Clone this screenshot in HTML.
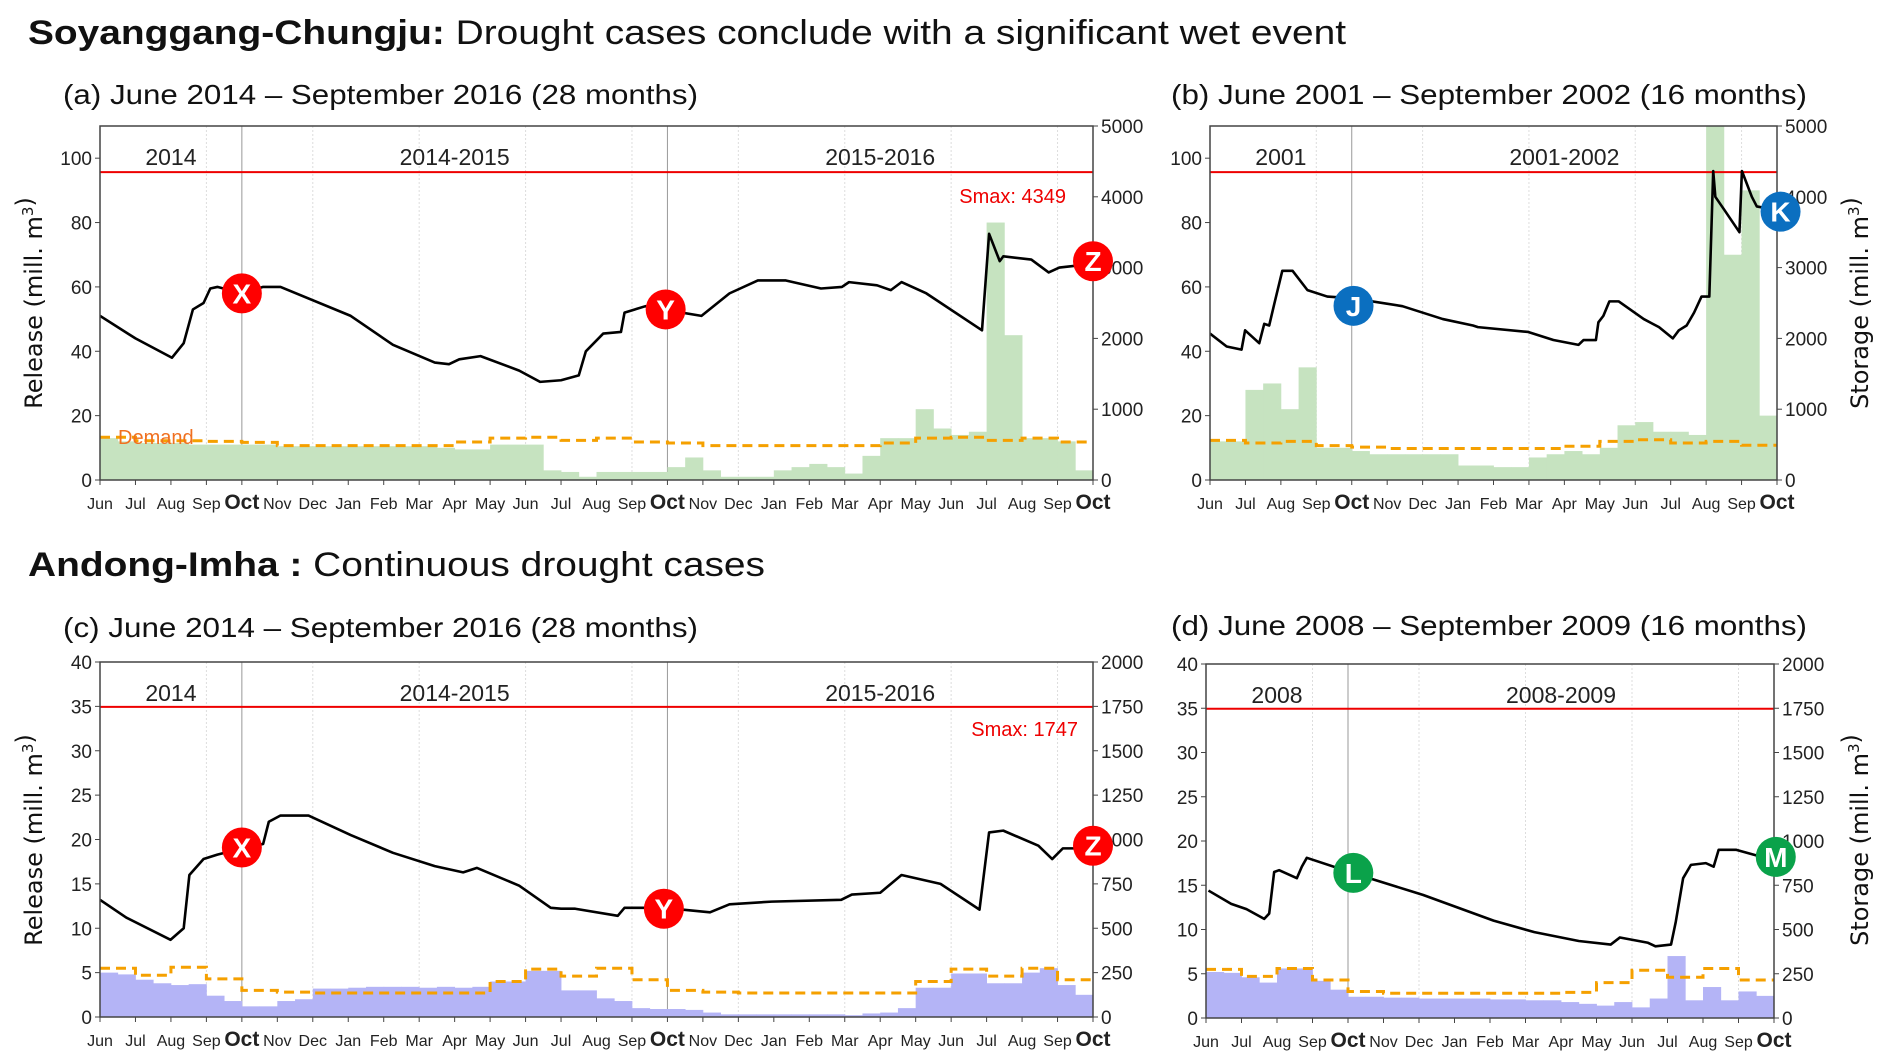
<!DOCTYPE html>
<html><head><meta charset="utf-8">
<style>
html,body{margin:0;padding:0;background:#fff;}
svg{display:block;}
text{font-family:"Liberation Sans Narrow","Liberation Sans",sans-serif;fill:#222;}
.ttl{font-family:"Liberation Sans",sans-serif;fill:#111;}
.ax{font-family:"DejaVu Sans","Liberation Sans",sans-serif;fill:#111;}
</style></head>
<body>
<svg id="chart" width="1892" height="1063" viewBox="0 0 1892 1063" xmlns="http://www.w3.org/2000/svg">
  <text class="ttl" x="28" y="44" font-size="34" textLength="1318" lengthAdjust="spacingAndGlyphs"><tspan font-weight="bold">Soyanggang-Chungju:</tspan> Drought cases conclude with a significant wet event</text>
  <text class="ttl" x="28" y="576" font-size="34" textLength="737" lengthAdjust="spacingAndGlyphs"><tspan font-weight="bold">Andong-Imha :</tspan> Continuous drought cases</text>
  <text class="ttl" x="63" y="104" font-size="28" textLength="635" lengthAdjust="spacingAndGlyphs">(a) June 2014 – September 2016 (28 months)</text>
  <text class="ttl" x="1171" y="104" font-size="28" textLength="636" lengthAdjust="spacingAndGlyphs">(b) June 2001 – September 2002 (16 months)</text>
  <text class="ttl" x="63" y="637" font-size="28" textLength="635" lengthAdjust="spacingAndGlyphs">(c) June 2014 – September 2016 (28 months)</text>
  <text class="ttl" x="1171" y="635" font-size="28" textLength="636" lengthAdjust="spacingAndGlyphs">(d) June 2008 – September 2009 (16 months)</text>
  <text class="ax" transform="translate(42,303) rotate(-90)" text-anchor="middle" font-size="24">Release (mill. m<tspan dy="-9" font-size="15">3</tspan>)</text>
  <text class="ax" transform="translate(42,840) rotate(-90)" text-anchor="middle" font-size="24">Release (mill. m<tspan dy="-9" font-size="15">3</tspan>)</text>
  <text class="ax" transform="translate(1868,303) rotate(-90)" text-anchor="middle" font-size="24">Storage (mill. m<tspan dy="-9" font-size="15">3</tspan>)</text>
  <text class="ax" transform="translate(1868,840) rotate(-90)" text-anchor="middle" font-size="24">Storage (mill. m<tspan dy="-9" font-size="15">3</tspan>)</text>
</svg>
<script>
// ---- Panel (a) Soyanggang-Chungju 2014-2016 ----
const aMonths = ["Jun","Jul","Aug","Sep","Oct","Nov","Dec","Jan","Feb","Mar","Apr","May","Jun","Jul","Aug","Sep","Oct","Nov","Dec","Jan","Feb","Mar","Apr","May","Jun","Jul","Aug","Sep","Oct"];
const aStorageT = [0,1.0,2.03,2.36,2.62,2.92,3.11,3.31,4.0,4.6,5.09,7.07,8.26,9.44,9.84,10.13,10.73,11.82,12.41,13.0,13.5,13.7,14.19,14.69,14.79,15.38,15.87,16.96,17.75,18.55,19.34,20.33,20.92,21.12,21.91,22.3,22.6,23.3,24.87,25.07,25.37,25.47,26.26,26.75,27.05,27.84];
const aStorage = [2318,2000,1727,1932,2409,2500,2705,2727,2636,2727,2727,2318,1909,1659,1636,1705,1750,1545,1386,1409,1477,1818,2068,2091,2364,2455,2409,2318,2636,2818,2818,2705,2727,2795,2750,2682,2795,2636,2114,3477,3091,3159,3114,2932,3000,3045];
const aRelease = [13,12,11.5,11.5,11.5,11,11,11,11,11,10.5,10.5,10.5,10.5,10.5,10.5,10.5,10.5,10.5,10,9.5,9.5,11,11,11,3,2.5,1,2.5,2.5,2.5,2.5,4,7,3,1,1,1,3,4,5,4,2,7.5,13,13,22,16,14,15,80,45,13,13,12,3];
const aDemand = [13.3,12.2,12.2,12,11.7,10.7,10.7,10.7,10.7,10.7,11.8,13,13.3,12.3,13,11.8,11.5,10.7,10.7,10.7,10.7,10.7,11.5,13,13.3,12.3,13,11.8];
const aYears = ["2014","2014-2015","2015-2016"];
const aMarkers = ["X","Y","Z"];
const aMarkerT = [4,15.95,28];
const aMarkerV = [2636,2409,3090];
// ---- Panel (b) 2001-2002 ----
const bMonths = ["Jun","Jul","Aug","Sep","Oct","Nov","Dec","Jan","Feb","Mar","Apr","May","Jun","Jul","Aug","Sep","Oct"];
const bStorageT = [0,0.47,0.89,0.99,1.39,1.53,1.67,1.82,2.04,2.33,2.75,3.31,4.0,5.43,6.57,7.42,7.56,8.98,9.69,10.4,10.54,10.89,10.96,11.1,11.27,11.53,12.24,12.67,13.06,13.23,13.45,13.66,13.87,14.09,14.2,14.26,14.51,14.94,15.01,15.29,15.43,15.93];
const bStorage = [2068,1886,1841,2114,1932,2205,2182,2500,2955,2955,2682,2591,2568,2455,2273,2182,2159,2091,1977,1909,1977,1977,2227,2318,2523,2523,2273,2159,2000,2114,2182,2364,2591,2591,4364,4000,3818,3500,4364,4000,3864,3818];
const bRelease = [12,12,28,30,22,35,10,10,9,8,8,8,8,8,4.5,4.5,4,4,7,8,9,8,10,17,18,15,15,14,110,70,90,20];
const bDemand = [12.3,11.5,12,10.7,10.2,9.8,9.8,9.8,9.8,9.8,10.5,12,12.5,11.5,12,10.8];
const bYears = ["2001","2001-2002"];
const bMarkers = ["J","K"];
const bMarkerT = [4.05,16.1];
const bMarkerV = [2460,3790];
// ---- Panel (c) Andong-Imha 2014-2016 ----
const cMonths = aMonths;
const cStorageT = [0,0.74,1.99,2.36,2.52,2.92,3.31,4.0,4.6,4.76,5.09,5.88,7.07,8.26,9.44,10.24,10.63,11.82,12.71,13.0,13.4,14.6,14.79,15.9,17.2,17.75,18.94,20.9,21.2,22.0,22.6,23.7,24.8,25.07,25.47,26.46,26.85,27.15,27.84];
const cStorage = [660,560,435,500,800,890,915,950,975,1100,1135,1135,1025,925,850,815,840,740,615,610,610,570,615,615,590,635,650,660,690,700,800,750,605,1040,1050,965,890,950,950];
const cRelease = [5,4.8,4.2,3.8,3.6,3.7,2.4,1.8,1.2,1.2,1.8,2,3.2,3.2,3.3,3.4,3.4,3.4,3.3,3.4,3.3,3.4,4,4,5.2,5.2,3,3,2.1,1.8,1,0.9,0.9,0.8,0.5,0.3,0.3,0.3,0.3,0.3,0.3,0.3,0.2,0.4,0.5,1,3.3,3.3,4.9,4.9,3.8,3.8,5,5.5,3.6,2.5];
const cDemand = [5.5,4.7,5.6,4.3,3.0,2.8,2.7,2.7,2.7,2.7,2.7,4.0,5.4,4.6,5.5,4.2,3.0,2.8,2.7,2.7,2.7,2.7,2.7,4.0,5.4,4.6,5.5,4.2];
const cYears = aYears;
const cMarkers = ["X","Y","Z"];
const cMarkerT = [4,15.9,28];
const cMarkerV = [955,610,965];
// ---- Panel (d) 2008-2009 ----
const dMonths = bMonths;
const dStorageT = [0.07,0.71,1.14,1.64,1.78,1.92,2.06,2.56,2.7,2.84,4.2,6.12,8.1,9.25,10.5,11.4,11.66,12.45,12.66,13.1,13.23,13.44,13.66,14.08,14.3,14.44,14.94,15.93];
const dStorage = [720,645,615,560,590,825,835,790,855,905,815,695,550,485,435,415,455,425,405,415,540,790,865,875,855,950,950,895];
const dRelease = [5.2,5.1,4.6,4,5.6,5.6,4.2,3.2,2.4,2.4,2.3,2.3,2.2,2.2,2.2,2.2,2.1,2.1,2,2,1.8,1.6,1.4,1.8,1.2,2.2,7,2,3.5,2,3,2.5];
const dDemand = [5.5,4.7,5.6,4.3,3.0,2.8,2.8,2.8,2.8,2.8,2.9,4.0,5.4,4.6,5.6,4.3];
const dYears = ["2008","2008-2009"];
const dMarkers = ["L","M"];
const dMarkerT = [4.15,16.05];
const dMarkerV = [820,910];

const NS = "http://www.w3.org/2000/svg";
const svg = document.getElementById("chart");
function mk(tag, attrs, parent){
  const e = document.createElementNS(NS, tag);
  for (const k in attrs) e.setAttribute(k, attrs[k]);
  (parent||svg).appendChild(e);
  return e;
}

function panel(id, box, months, sT, sV, rel, dem, years, yearT, mk_, mT, mV, mColor, barColor, relTicks, stTicks, smaxText, smaxPos) {
  const g = mk("g", {});
  
  
  const n = months.length - 1;
  const xS = t => box.x0 + (box.x1 - box.x0) * t / n;
  const yR = v => box.yb - (box.yb - box.yt) * v / box.rmax;
  const yS = v => box.yb - (box.yb - box.yt) * v / box.smax;
  const clip = mk("clipPath", {id: "clip-" + id}, g);
  mk("rect", {x: box.x0, y: box.yt, width: box.x1 - box.x0, height: box.yb - box.yt}, clip);
  const inner = mk("g", {"clip-path": "url(#clip-" + id + ")"}, g);
  for (let i = 1; i < n; i++) {
    if (months[i] === "Oct") {
      const l = mk("line", {x1: xS(i), x2: xS(i), y1: box.yt, y2: box.yb, stroke: "#999", "stroke-width": 1}, inner);
      
      
    } else if (i % 3 === 0) {
      const l = mk("line", {x1: xS(i), x2: xS(i), y1: box.yt, y2: box.yb, stroke: "#ddd", "stroke-width": 1, "stroke-dasharray": "2,2"}, inner);
      
      
    }
  }
  const bw = (box.x1 - box.x0) / rel.length;
  rel.forEach((v, i) => {
    const x = xS(i / 2);
    const r = mk("rect", {x: x, y: yR(v), width: bw + 0.4, height: box.yb - yR(v), fill: barColor}, inner);
    
    
  });
  let d = "";
  dem.forEach((v, i) => { d += (i ? "L" : "M") + xS(i) + "," + yR(v) + "L" + xS(i + 1) + "," + yR(v); });
  const dl = mk("path", {d: d, fill: "none", stroke: "#f5a000", "stroke-width": 3, "stroke-dasharray": "10,6"}, inner);
  
  
  const sl = mk("line", {x1: box.x0, x2: box.x1, y1: yS(box.smaxV), y2: yS(box.smaxV), stroke: "#e00", "stroke-width": 2}, inner);
  
  
  const sp = mk("path", {d: sT.map((t, i) => (i ? "L" : "M") + xS(t) + "," + yS(sV[i])).join(""), fill: "none", stroke: "#000", "stroke-width": 2.6, "stroke-linejoin": "round"}, inner);
  
  
  const fr = mk("rect", {x: box.x0, y: box.yt, width: box.x1 - box.x0, height: box.yb - box.yt, fill: "none", stroke: "#444", "stroke-width": 1.5}, g);
  
  
  years.forEach((y, i) => {
    const t = mk("text", {x: xS(yearT[i]), y: box.yt + 39, "text-anchor": "middle", "font-size": 23}, g);
    t.textContent = y;
    
    
  });
  months.forEach((m, i) => {
    mk("line", {x1: xS(i), x2: xS(i), y1: box.yb, y2: box.yb + 5, stroke: "#444"}, g);
    const t = mk("text", {x: xS(i), y: box.yb + 29, "text-anchor": "middle", "font-size": m === "Oct" ? 21 : 16, "font-weight": m === "Oct" ? "bold" : "normal"}, g);
    t.textContent = m;
    
    
  });
  relTicks.forEach(v => {
    mk("line", {x1: box.x0 - 5, x2: box.x0, y1: yR(v), y2: yR(v), stroke: "#444"}, g);
    const t = mk("text", {x: box.x0 - 8, y: yR(v) + 7, "text-anchor": "end", "font-size": 19}, g);
    t.textContent = v;
    
    
  });
  stTicks.forEach(v => {
    mk("line", {x1: box.x1, x2: box.x1 + 5, y1: yS(v), y2: yS(v), stroke: "#444"}, g);
    const t = mk("text", {x: box.x1 + 8, y: yS(v) + 7, "text-anchor": "start", "font-size": 19}, g);
    t.textContent = v;
    
    
  });
  if (smaxText) {
    const t = mk("text", {x: smaxPos[0], y: smaxPos[1], "text-anchor": "end", "font-size": 20, style: "fill:#e00"}, g);
    t.textContent = smaxText;
    
    
  }
  mk_.forEach((L, i) => {
    const c = mk("circle", {cx: xS(mT[i]), cy: yS(mV[i]), r: 20, fill: mColor}, g);
    
    
    const t = mk("text", {x: xS(mT[i]), y: yS(mV[i]) + 10, "text-anchor": "middle", "font-size": 28, "font-weight": "bold", style: "font-family:'Liberation Sans',sans-serif;fill:#fff"}, g);
    t.textContent = L;
    
    
  });
}

panel("a", {x0:100,x1:1093,yt:126,yb:480,rmax:110,smax:5000,smaxV:4349}, aMonths, aStorageT, aStorage, aRelease, aDemand, aYears, [2,10,22], aMarkers, aMarkerT, aMarkerV, "#f00", "#c6e3c0", [0,20,40,60,80,100], [0,1000,2000,3000,4000,5000], "Smax: 4349", [1066,203]);
const dt = document.createElementNS(NS, "text");
dt.setAttribute("x", 118); dt.setAttribute("y", 444); dt.setAttribute("font-size", 20);
dt.setAttribute("style", "fill:#f07020");
dt.textContent = "Demand";


svg.appendChild(dt);
panel("b", {x0:1210,x1:1777,yt:126,yb:480,rmax:110,smax:5000,smaxV:4349}, bMonths, bStorageT, bStorage, bRelease, bDemand, bYears, [2,10], bMarkers, bMarkerT, bMarkerV, "#0b6fc0", "#c6e3c0", [0,20,40,60,80,100], [0,1000,2000,3000,4000,5000], null, null);
panel("c", {x0:100,x1:1093,yt:662,yb:1017,rmax:40,smax:2000,smaxV:1747}, cMonths, cStorageT, cStorage, cRelease, cDemand, cYears, [2,10,22], cMarkers, cMarkerT, cMarkerV, "#f00", "#b4b4f6", [0,5,10,15,20,25,30,35,40], [0,250,500,750,1000,1250,1500,1750,2000], "Smax: 1747", [1078,736]);
panel("d", {x0:1206,x1:1774,yt:664,yb:1018,rmax:40,smax:2000,smaxV:1747}, dMonths, dStorageT, dStorage, dRelease, dDemand, dYears, [2,10], dMarkers, dMarkerT, dMarkerV, "#0aa24a", "#b4b4f6", [0,5,10,15,20,25,30,35,40], [0,250,500,750,1000,1250,1500,1750,2000], null, null);
</script>
</body></html>
